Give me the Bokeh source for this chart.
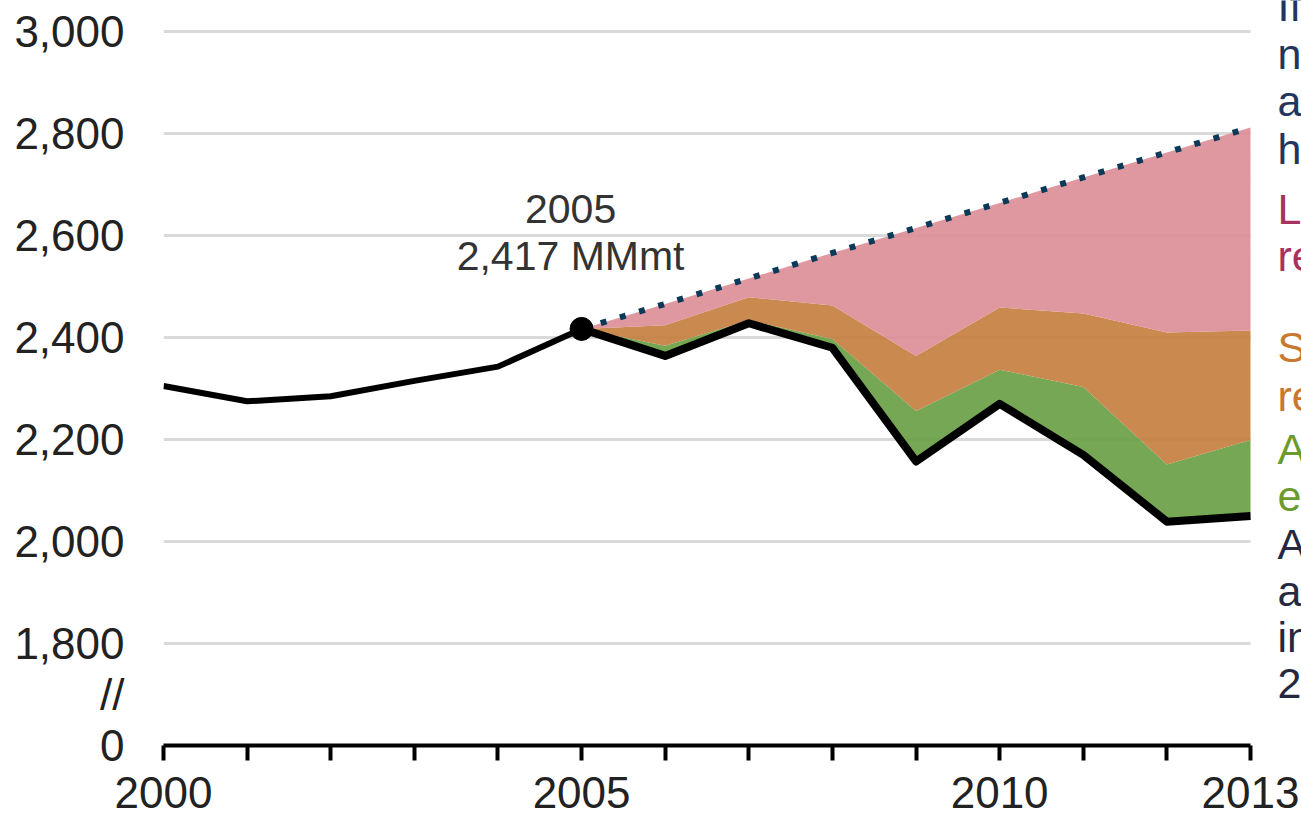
from bokeh.plotting import figure
from bokeh.models import FixedTicker, Label, NumeralTickFormatter, Range1d
from bokeh.embed import file_html
from bokeh.resources import INLINE

# ---------------- data ----------------
years_hist = [2000, 2001, 2002, 2003, 2004, 2005]
actual_hist = [2305, 2275, 2285, 2315, 2343, 2417]

years_proj = [2005, 2006, 2007, 2008, 2009, 2010, 2011, 2012, 2013]
actual_proj = [2417, 2364, 2428, 2380, 2157, 2270, 2170, 2039, 2050]
renew_top = [2417, 2384, 2434, 2397, 2256, 2337, 2303, 2151, 2199]
gas_top = [2417, 2424, 2479, 2463, 2364, 2459, 2447, 2410, 2414]
baseline = [2417, 2466, 2516, 2566, 2615, 2664, 2714, 2763, 2812]

grid_values = [1800, 2000, 2200, 2400, 2600, 2800, 3000]
y_ticks = [1600, 1700] + grid_values
y_tick_text = {1600: "0", 1700: "//"}
x_ticks = list(range(2000, 2014))
x_labels = [2000, 2005, 2010, 2013]

note_year = "2005"
note_value = "2,417 MMmt"

side_lines = ["If no", "new actions", "are taken,", "higher",
              "Lower demand", "reduced",
              "Switch to gas", "reduced",
              "Added renewable", "energy",
              "Actual", "annual", "in", "2013"]
side_colors = ["#22355e"] * 4 + ["#a8325e"] * 2 + ["#c8782f"] * 2 + ["#6b9b2f"] * 2 + ["#25283f"] * 4
side_baselines_px = [22, 70, 117, 165, 225, 272, 363, 412, 465, 512, 560, 607, 653, 700]

FONT = "Liberation Sans"
X0, X1 = 2000, 2013
Y0, Y1 = 1600, 3061
FRAME_H = 745
PX_PER_YEAR = 1087 / 13
TEXT_SHIFT = 17


def px_to_val(s):
    return Y1 - s * (Y1 - Y0) / FRAME_H


p = figure(width=1301, height=814,
           x_range=Range1d(X0, X1 + 51 / PX_PER_YEAR), y_range=Range1d(Y0, Y1),
           output_backend="svg", toolbar_location=None, title=None,
           min_border_left=163, min_border_right=0, min_border_top=0, min_border_bottom=69)
p.outline_line_color = None
p.background_fill_color = "white"
p.border_fill_color = "white"

# grid (limited to the plotted years)
p.xgrid.visible = False
p.ygrid.visible = False
p.segment(x0=[X0] * len(grid_values), x1=[X1] * len(grid_values), y0=grid_values, y1=grid_values,
          line_color="#d9d9d9", line_width=3, level="underlay")

# x axis
p.xaxis.bounds = (X0, X1)
p.xaxis.ticker = FixedTicker(ticks=x_ticks)
p.xaxis.major_label_overrides = {t: (str(t) if t in x_labels else "") for t in x_ticks}
p.xaxis.axis_line_color = "black"
p.xaxis.axis_line_width = 4
p.xaxis.major_tick_line_color = "black"
p.xaxis.major_tick_line_width = 4
p.xaxis.major_tick_in = 0
p.xaxis.major_tick_out = 15
p.xaxis.minor_tick_line_color = None
p.xaxis.major_label_text_font = FONT
p.xaxis.major_label_text_font_size = "44px"
p.xaxis.major_label_text_color = "#222222"
p.xaxis.major_label_text_line_height = 0.6
p.xaxis.major_label_standoff = 16

# y axis
p.yaxis.ticker = FixedTicker(ticks=y_ticks)
p.yaxis.formatter = NumeralTickFormatter(format="0,0")
p.yaxis.major_label_overrides = y_tick_text
p.yaxis.axis_line_color = None
p.yaxis.major_tick_line_color = None
p.yaxis.minor_tick_line_color = None
p.yaxis.major_label_standoff = 33
p.yaxis.major_label_text_font = FONT
p.yaxis.major_label_text_font_size = "44px"
p.yaxis.major_label_text_color = "#222222"

# areas
p.varea(x=years_proj, y1=actual_proj, y2=renew_top, fill_color="#6a9f45", fill_alpha=0.92)
p.varea(x=years_proj, y1=renew_top, y2=gas_top, fill_color="#c47f40", fill_alpha=0.92)
p.varea(x=years_proj, y1=gas_top, y2=baseline, fill_color="#dc8f98", fill_alpha=0.92)

# baseline dotted
p.line(years_proj, baseline, line_color="#0b3a58", line_width=6, line_dash="6 14", line_cap="butt")

# actual emissions
p.line(years_hist, actual_hist, line_color="black", line_width=6, line_join="round")
p.line(years_proj, actual_proj, line_color="black", line_width=8, line_join="round")
p.scatter([years_hist[-1]], [actual_hist[-1]], size=23, fill_color="black", line_color="black")

# annotation
p.add_layout(Label(x=2005, y=2417, x_offset=-11, y_offset=103 + TEXT_SHIFT, text=note_year,
                   text_align="center", text_baseline="alphabetic", text_font=FONT,
                   text_font_size="41px", text_color="#333333"))
p.add_layout(Label(x=2005, y=2417, x_offset=-11, y_offset=56 + TEXT_SHIFT, text=note_value,
                   text_align="center", text_baseline="alphabetic", text_font=FONT,
                   text_font_size="41px", text_color="#333333"))

# side text (cut off at right edge)
for txt, col, b in zip(side_lines, side_colors, side_baselines_px):
    p.add_layout(Label(x=X1, y=px_to_val(b), x_offset=27, y_offset=TEXT_SHIFT, text=txt,
                       text_align="left", text_baseline="alphabetic", text_font=FONT,
                       text_font_size="43px", text_color=col))

open("out.html", "w").write(file_html(p, INLINE))
